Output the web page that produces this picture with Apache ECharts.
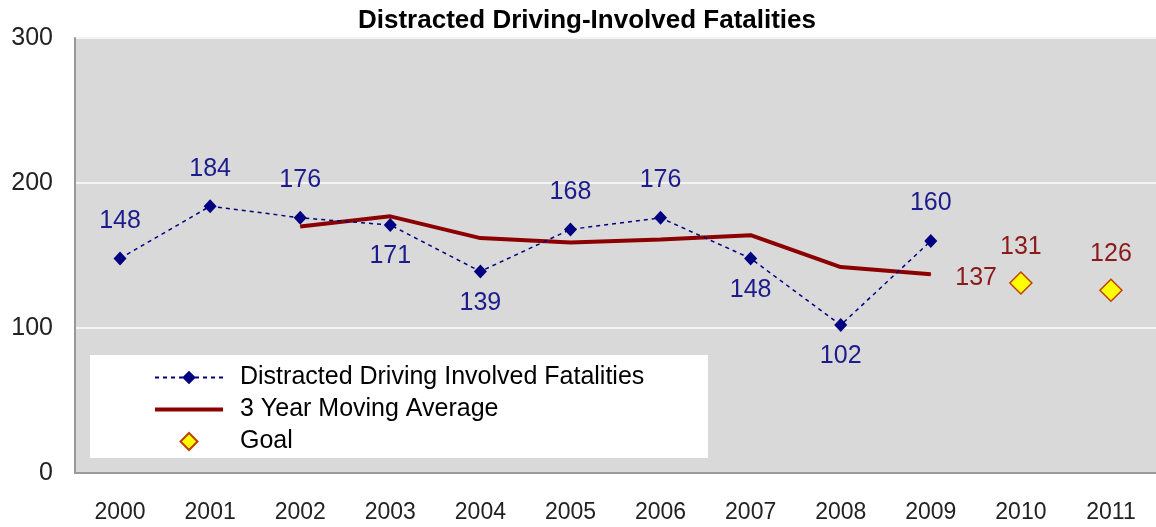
<!DOCTYPE html>
<html>
<head>
<meta charset="utf-8">
<title>Distracted Driving-Involved Fatalities</title>
<script src="https://cdn.jsdelivr.net/npm/echarts@6/dist/echarts.min.js"></script>
<style>
  html, body { margin: 0; padding: 0; background: #fff; }
  #chart { width: 1156px; height: 527px; }
</style>
</head>
<body>
<div id="chart"></div>
<script>
// values
var years = ['2000', '2001', '2002', '2003', '2004', '2005', '2006', '2007', '2008', '2009', '2010', '2011'];
var fatalities = [148, 184, 176, 171, 139, 168, 176, 148, 102, 160, null, null];
var movingAvg = [null, null, 170, 177, 162, 159, 161, 164, 142, 137, null, null];
var goal = [null, null, null, null, null, null, null, null, null, null, 131, 126];
var yTicks = [0, 100, 200, 300];

var FONT = '"Liberation Sans", Arial, sans-serif';
var BLUE = '#000080';
var RED = '#8b0000';

// which blue labels sit under their point
var below = { 3: 1, 4: 1, 7: 1, 8: 1 };

var fatalData = fatalities.map(function (v, i) {
    if (v == null) return null;
    return {
        value: v,
        label: below[i]
            ? { position: 'bottom', distance: 12 }
            : { position: 'top', distance: 18 }
    };
});

// only the last moving-average point carries a label
var lastMa = -1;
movingAvg.forEach(function (v, i) { if (v != null) lastMa = i; });
var maData = movingAvg.map(function (v, i) {
    if (v == null) return null;
    return i == lastMa ? { value: v, label: { show: true } } : v;
});

var chart = echarts.init(document.getElementById('chart'));
chart.setOption({
    animation: false,
    title: {
        text: 'Distracted Driving-Involved Fatalities',
        left: 582, textAlign: 'center', top: 3,
        textStyle: { fontFamily: FONT, fontWeight: 'bold', fontSize: 26, color: '#000' }
    },
    graphic: [{
        type: 'rect', z: 1,
        shape: { x: 90, y: 355, width: 618, height: 103 },
        style: { fill: '#fff' }
    }],
    legend: {
        orient: 'vertical', left: 149, top: 360,
        itemWidth: 68, itemHeight: 17, itemGap: 7,
        textStyle: { fontFamily: FONT, fontSize: 25, color: '#000', padding: [0, 0, 0, 12] },
        data: [
            { name: 'Distracted Driving Involved Fatalities' },
            { name: '3 Year Moving Average', icon: 'path://M0,0 L68,0 L68,4 L0,4 Z' },
            { name: 'Goal', icon: 'path://M9,0 L18,9 L9,18 L0,9 Z' }
        ]
    },
    grid: { left: 75, top: 38, width: 1089, height: 435, show: true, backgroundColor: '#d9d9d9', borderWidth: 0 },
    xAxis: {
        type: 'category', data: years, boundaryGap: true,
        axisLine: { lineStyle: { color: '#999', width: 2 } },
        axisTick: { length: 8, lineStyle: { color: '#999', width: 2 } },
        axisLabel: { fontFamily: FONT, fontSize: 23, color: '#222', margin: 28 }
    },
    yAxis: {
        type: 'value', min: yTicks[0], max: yTicks[yTicks.length - 1], interval: 100,
        axisLine: { show: true, lineStyle: { color: '#999', width: 2 } },
        axisTick: { show: false },
        splitLine: { lineStyle: { color: '#f4f4f4', width: 2 } },
        axisLabel: { fontFamily: FONT, fontSize: 25, color: '#222', margin: 22 }
    },
    series: [
        {
            name: 'Distracted Driving Involved Fatalities',
            type: 'line', z: 3, data: fatalData,
            symbol: 'diamond', symbolSize: [13, 14],
            itemStyle: { color: BLUE },
            lineStyle: { color: BLUE, width: 1.5, type: [4, 4] },
            label: { show: true, fontFamily: FONT, fontSize: 25, color: '#1c1c8c' }
        },
        {
            name: '3 Year Moving Average',
            type: 'line', z: 2, data: maData,
            symbol: 'circle', symbolSize: 1, connectNulls: false,
            lineStyle: { color: RED, width: 4 },
            itemStyle: { color: RED },
            label: { show: false, position: 'right', distance: 24, offset: [0, 4], fontFamily: FONT, fontSize: 25, color: '#8b1a1a' }
        },
        {
            name: 'Goal',
            type: 'scatter', z: 3, data: goal,
            symbol: 'diamond', symbolSize: [22, 22],
            itemStyle: { color: '#ffff00', borderColor: '#c04000', borderWidth: 1.5, opacity: 1 },
            label: { show: true, position: 'top', distance: 12, fontFamily: FONT, fontSize: 25, color: '#8b1a1a' }
        }
    ]
});
</script>
</body>
</html>
